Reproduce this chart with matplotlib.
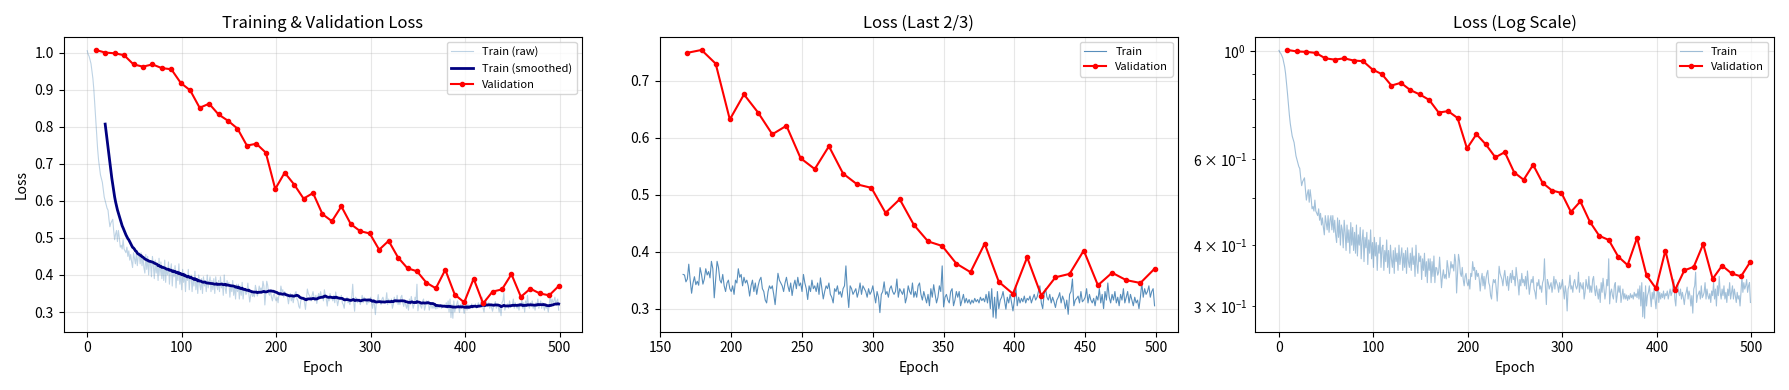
import numpy as np
import pandas as pd
import matplotlib
matplotlib.use('Agg')
import matplotlib.pyplot as plt

plt.rcParams['font.family'] = ['Noto Sans CJK KR', 'DejaVu Sans']

# raw training loss per epoch (0..499)
train_loss = [
    1.005, 0.995, 0.99, 0.98, 0.97, 0.95, 0.93, 0.90, 0.86, 0.82,
    0.78, 0.74, 0.71, 0.69, 0.67, 0.66, 0.65, 0.63, 0.61, 0.60,
    0.59, 0.58, 0.575, 0.55, 0.53, 0.54, 0.545, 0.55, 0.52, 0.495,
    0.51, 0.52, 0.49, 0.52, 0.50, 0.475, 0.48, 0.47, 0.495, 0.47,
    0.465, 0.46, 0.475, 0.45, 0.465, 0.44, 0.455, 0.435, 0.42, 0.46,
    0.445, 0.43, 0.46, 0.425, 0.45, 0.46, 0.43, 0.46, 0.425, 0.45,
    0.42, 0.405, 0.455, 0.415, 0.45, 0.40, 0.44, 0.43, 0.395, 0.45,
    0.425, 0.39, 0.44, 0.405, 0.43, 0.385, 0.445, 0.40, 0.435, 0.39,
    0.425, 0.385, 0.44, 0.38, 0.42, 0.40, 0.435, 0.375, 0.41, 0.43,
    0.37, 0.415, 0.395, 0.425, 0.365, 0.41, 0.385, 0.43, 0.375, 0.405,
    0.36, 0.415, 0.38, 0.405, 0.355, 0.40, 0.385, 0.415, 0.36, 0.395,
    0.40, 0.355, 0.39, 0.37, 0.41, 0.36, 0.39, 0.35, 0.40, 0.375,
    0.36, 0.39, 0.35, 0.395, 0.37, 0.385, 0.355, 0.40, 0.365, 0.38,
    0.395, 0.355, 0.385, 0.36, 0.39, 0.35, 0.395, 0.37, 0.36, 0.385,
    0.355, 0.395, 0.365, 0.38, 0.345, 0.40, 0.365, 0.35, 0.385, 0.37,
    0.38, 0.34, 0.375, 0.355, 0.385, 0.345, 0.37, 0.335, 0.375, 0.355,
    0.375, 0.335, 0.37, 0.345, 0.38, 0.335, 0.36, 0.359, 0.347, 0.352,
    0.378, 0.35, 0.327, 0.345, 0.356, 0.342, 0.348, 0.341, 0.372, 0.36,
    0.343, 0.352, 0.37, 0.359, 0.365, 0.354, 0.383, 0.37, 0.319, 0.35,
    0.383, 0.372, 0.35, 0.345, 0.36, 0.34, 0.33, 0.345, 0.35, 0.335,
    0.33, 0.34, 0.325, 0.35, 0.345, 0.37, 0.355, 0.36, 0.34, 0.355,
    0.345, 0.35, 0.34, 0.322, 0.34, 0.35, 0.33, 0.345, 0.325, 0.34,
    0.35, 0.355, 0.335, 0.33, 0.315, 0.31, 0.33, 0.34, 0.335, 0.34,
    0.325, 0.307, 0.335, 0.362, 0.35, 0.345, 0.34, 0.33, 0.345, 0.355,
    0.34, 0.33, 0.345, 0.323, 0.34, 0.35, 0.335, 0.355, 0.34, 0.345,
    0.33, 0.36, 0.345, 0.335, 0.316, 0.34, 0.33, 0.35, 0.335, 0.34,
    0.33, 0.345, 0.325, 0.354, 0.335, 0.317, 0.33, 0.34, 0.335, 0.345,
    0.325, 0.32, 0.31, 0.335, 0.33, 0.34, 0.325, 0.33, 0.32, 0.335,
    0.34, 0.375, 0.33, 0.302, 0.34, 0.335, 0.325, 0.33, 0.335, 0.32,
    0.33, 0.345, 0.325, 0.34, 0.335, 0.33, 0.32, 0.335, 0.325, 0.33,
    0.34, 0.325, 0.31, 0.33, 0.32, 0.293, 0.325, 0.33, 0.347, 0.325,
    0.33, 0.32, 0.335, 0.34, 0.33, 0.325, 0.33, 0.352, 0.32, 0.335,
    0.33, 0.325, 0.335, 0.31, 0.32, 0.34, 0.33, 0.325, 0.345, 0.32,
    0.33, 0.32, 0.34, 0.345, 0.325, 0.315, 0.33, 0.32, 0.31, 0.325,
    0.305, 0.335, 0.32, 0.342, 0.325, 0.31, 0.32, 0.34, 0.33, 0.375,
    0.303, 0.32, 0.325, 0.315, 0.31, 0.33, 0.335, 0.305, 0.315, 0.33,
    0.32, 0.33, 0.305, 0.315, 0.325, 0.31, 0.318, 0.31, 0.316, 0.308,
    0.315, 0.31, 0.318, 0.312, 0.316, 0.31, 0.32, 0.314, 0.318, 0.312,
    0.325, 0.31, 0.33, 0.30, 0.335, 0.285, 0.32, 0.283, 0.33, 0.30,
    0.315, 0.32, 0.33, 0.315, 0.299, 0.32, 0.31, 0.325, 0.31, 0.296,
    0.315, 0.34, 0.305, 0.32, 0.31, 0.318, 0.312, 0.322, 0.31, 0.318,
    0.315, 0.322, 0.31, 0.318, 0.325, 0.315, 0.32, 0.33, 0.34, 0.31,
    0.30, 0.325, 0.335, 0.32, 0.315, 0.325, 0.31, 0.32, 0.312, 0.302,
    0.315, 0.32, 0.328, 0.31, 0.322, 0.315, 0.30, 0.315, 0.29, 0.325,
    0.33, 0.352, 0.305, 0.315, 0.318, 0.322, 0.31, 0.33, 0.312, 0.315,
    0.32, 0.335, 0.31, 0.325, 0.315, 0.31, 0.318, 0.305, 0.322, 0.315,
    0.335, 0.31, 0.325, 0.30, 0.33, 0.315, 0.345, 0.32, 0.31, 0.325,
    0.315, 0.33, 0.31, 0.32, 0.305, 0.325, 0.315, 0.335, 0.31, 0.32,
    0.33, 0.31, 0.325, 0.315, 0.305, 0.32, 0.31, 0.315, 0.30, 0.32,
    0.345, 0.32, 0.335, 0.325, 0.33, 0.34, 0.32, 0.33, 0.335, 0.305,
]

# validation loss, every 10 epochs
val_epochs = list(range(9, 500, 10))
val_loss = [
    1.007, 1.0, 0.998, 0.993, 0.968, 0.962, 0.968, 0.958, 0.955, 0.918,
    0.898, 0.851, 0.862, 0.833, 0.816, 0.795, 0.749, 0.754, 0.730, 0.632,
    0.676, 0.644, 0.606, 0.621, 0.564, 0.545, 0.585, 0.537, 0.518, 0.512,
    0.468, 0.492, 0.447, 0.418, 0.410, 0.379, 0.364, 0.414, 0.347, 0.326,
    0.390, 0.323, 0.355, 0.361, 0.402, 0.341, 0.363, 0.350, 0.345, 0.370,
]

epochs = np.arange(len(train_loss))
train = np.array(train_loss)
smoothed = pd.Series(train).rolling(20).mean()
start = len(train) // 3

fig, axes = plt.subplots(1, 3, figsize=(17.89, 3.9), dpi=100)

ax = axes[0]
ax.plot(epochs, train, color='steelblue', alpha=0.35, linewidth=0.8, label='Train (raw)')
ax.plot(epochs, smoothed, color='navy', linewidth=2, label='Train (smoothed)')
ax.plot(val_epochs, val_loss, 'o-', color='red', markersize=3, linewidth=1.5, label='Validation')
ax.set_xlabel('Epoch')
ax.set_ylabel('Loss')
ax.set_title('Training & Validation Loss')
ax.legend(fontsize=8)
ax.grid(True, alpha=0.3)

ax = axes[1]
ax.plot(epochs[start:], train[start:], color='steelblue', alpha=0.9, linewidth=0.8, label='Train')
vs = [i for i, e in enumerate(val_epochs) if e >= start]
ax.plot([val_epochs[i] for i in vs], [val_loss[i] for i in vs], 'o-', color='red',
        markersize=3, linewidth=1.5, label='Validation')
ax.set_xlabel('Epoch')
ax.set_title('Loss (Last 2/3)')
ax.legend(fontsize=8)
ax.grid(True, alpha=0.3)

ax = axes[2]
ax.plot(epochs, train, color='steelblue', alpha=0.5, linewidth=0.8, label='Train')
ax.plot(val_epochs, val_loss, 'o-', color='red', markersize=3, linewidth=1.5, label='Validation')
ax.set_yscale('log')
ax.set_xlabel('Epoch')
ax.set_title('Loss (Log Scale)')
ax.legend(fontsize=8)
ax.grid(True, alpha=0.3)

plt.tight_layout()
plt.savefig('out.png', dpi=100)
